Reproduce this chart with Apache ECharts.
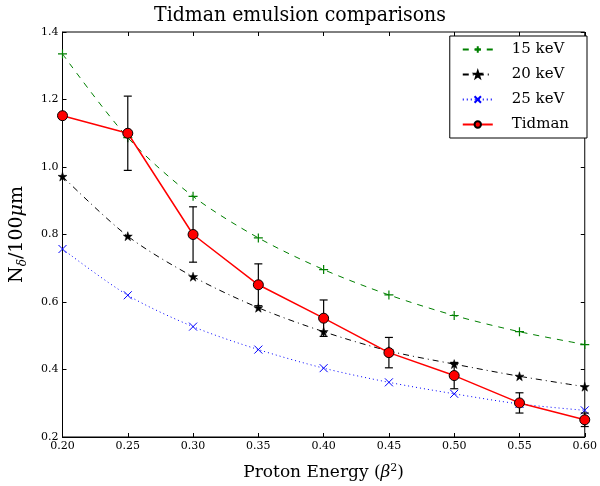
<!DOCTYPE html>
<html>
<head>
<meta charset="utf-8">
<title>Tidman emulsion comparisons</title>
<script src="https://cdn.jsdelivr.net/npm/echarts@6/dist/echarts.min.js"></script>
<style>
  html, body { margin: 0; padding: 0; background: #fff; }
  #chart { width: 600px; height: 486px; }
</style>
</head>
<body>
<div id="chart"></div>
<script>
// beta^2 values
var energy = [0.20, 0.25, 0.30, 0.35, 0.40, 0.45, 0.50, 0.55, 0.60];
var kev15 = [1.335, 1.087, 0.913, 0.790, 0.696, 0.621, 0.560, 0.512, 0.474];
var kev20 = [0.972, 0.795, 0.675, 0.583, 0.512, 0.455, 0.416, 0.380, 0.349];
var kev25 = [0.757, 0.620, 0.527, 0.459, 0.404, 0.362, 0.328, 0.298, 0.279];
var tidman = [1.152, 1.100, 0.800, 0.651, 0.552, 0.450, 0.382, 0.301, 0.251];
var tidmanErr = [0, 0.11, 0.082, 0.062, 0.054, 0.045, 0.039, 0.03, 0.02];

var FONT = 'DejaVu Serif';
var TITLE_FONT = "'DejaVu Serif Condensed', 'DejaVu Serif'";

var plusPath = 'path://M0,5L10,5M5,0L5,10';
var crossPath = 'path://M0,0L10,10M10,0L0,10';
var starPath = 'path://M5,0L6.2,3.6L10,3.6L7,5.9L8.1,9.5L5,7.3L1.9,9.5L3,5.9L0,3.6L3.8,3.6Z';

function pairs(ys) {
  return energy.map(function (x, i) { return [x, ys[i]]; });
}

var errData = energy.map(function (x, i) {
  return [x, tidman[i] - tidmanErr[i], tidman[i] + tidmanErr[i], tidmanErr[i]];
});

var chart = echarts.init(document.getElementById('chart'));

chart.setOption({
  animation: false,
  backgroundColor: '#fff',
  title: {
    text: 'Tidman emulsion comparisons',
    left: 'center',
    top: 0,
    textStyle: { fontFamily: TITLE_FONT, fontSize: 21, fontWeight: 'normal', color: '#000' }
  },
  legend: {
    orient: 'vertical',
    right: 13,
    top: 36,
    padding: [6, 18, 6, 12],
    itemWidth: 30,
    itemHeight: 8,
    itemGap: 10,
    borderColor: '#000',
    borderWidth: 1,
    backgroundColor: '#fff',
    data: ['15 keV', '20 keV', '25 keV', 'Tidman'],
    textStyle: { fontFamily: FONT, fontSize: 15, color: '#000', padding: [0, 0, 0, 14] }
  },
  grid: { left: 61, right: 12, top: 32, bottom: 46, show: true, borderColor: '#000', borderWidth: 1 },
  xAxis: [{
    type: 'value',
    min: 0.2,
    max: 0.6,
    interval: 0.05,
    name: 'Proton Energy ({i|β}{sup|2})',
    nameLocation: 'middle',
    nameGap: 26,
    nameTextStyle: {
      fontFamily: FONT, fontSize: 17, color: '#000',
      rich: {
        i: { fontFamily: FONT, fontSize: 17, fontStyle: 'italic', color: '#000' },
        sup: { fontFamily: FONT, fontSize: 11, color: '#000', verticalAlign: 'top', padding: [0, 0, 8, 0] }
      }
    },
    axisLine: { lineStyle: { color: '#000', width: 1 } },
    axisTick: { inside: true, length: 4, lineStyle: { color: '#000' } },
    axisLabel: { fontFamily: FONT, fontSize: 11, color: '#000', margin: 4, formatter: function (v) { return v.toFixed(2); } },
    splitLine: { show: false }
  }, {
    type: 'value',
    position: 'top',
    min: 0.2,
    max: 0.6,
    interval: 0.05,
    axisLine: { show: false },
    axisTick: { inside: true, length: 4, lineStyle: { color: '#000' } },
    axisLabel: { show: false },
    splitLine: { show: false }
  }],
  yAxis: [{
    type: 'value',
    min: 0.2,
    max: 1.4,
    interval: 0.2,
    name: '{r|N}{s|δ}{r|/100}{i|μ}{r|m}',
    nameLocation: 'middle',
    nameGap: 34,
    nameTextStyle: {
      fontFamily: FONT, fontSize: 19, color: '#000',
      rich: {
        r: { fontFamily: FONT, fontSize: 19, color: '#000' },
        i: { fontFamily: FONT, fontSize: 19, fontStyle: 'italic', color: '#000' },
        s: { fontFamily: FONT, fontSize: 12, fontStyle: 'italic', color: '#000', padding: [10, 0, 0, 0] }
      }
    },
    axisLine: { lineStyle: { color: '#000', width: 1 } },
    axisTick: { inside: true, length: 4, lineStyle: { color: '#000' } },
    axisLabel: { fontFamily: FONT, fontSize: 11, color: '#000', margin: 4, formatter: function (v) { return v.toFixed(1); } },
    splitLine: { show: false }
  }, {
    type: 'value',
    position: 'right',
    min: 0.2,
    max: 1.4,
    interval: 0.2,
    axisLine: { show: false },
    axisTick: { inside: true, length: 4, lineStyle: { color: '#000' } },
    axisLabel: { show: false },
    splitLine: { show: false }
  }],
  series: [
    {
      name: '15 keV',
      type: 'line',
      data: pairs(kev15),
      symbol: plusPath,
      symbolSize: 9,
      smooth: 0.3,
      lineStyle: { color: '#008000', width: 1, type: [6, 6] },
      itemStyle: { color: '#008000', borderColor: '#008000', borderWidth: 1.2 },
      z: 3
    },
    {
      name: '20 keV',
      type: 'line',
      data: pairs(kev20),
      symbol: starPath,
      symbolSize: 9,
      smooth: 0.3,
      lineStyle: { color: '#000', width: 1, type: [6, 4, 1, 4] },
      itemStyle: { color: '#000', borderColor: '#000', borderWidth: 0.5 },
      z: 3
    },
    {
      name: '25 keV',
      type: 'line',
      data: pairs(kev25),
      symbol: crossPath,
      symbolSize: 8,
      smooth: 0.3,
      lineStyle: { color: '#0000ff', width: 1, type: [1, 3] },
      itemStyle: { color: '#0000ff', borderColor: '#0000ff', borderWidth: 1 },
      z: 3
    },
    {
      name: 'errors',
      type: 'custom',
      data: errData,
      encode: { x: 0, y: [1, 2] },
      z: 4,
      renderItem: function (params, api) {
        if (api.value(3) <= 0) return null;
        var x = api.value(0);
        var lo = api.coord([x, api.value(1)]);
        var hi = api.coord([x, api.value(2)]);
        var cap = 4;
        var st = { stroke: '#000', lineWidth: 1.2 };
        return {
          type: 'group',
          children: [
            { type: 'line', shape: { x1: lo[0], y1: lo[1], x2: hi[0], y2: hi[1] }, style: st },
            { type: 'line', shape: { x1: lo[0] - cap, y1: lo[1], x2: lo[0] + cap, y2: lo[1] }, style: st },
            { type: 'line', shape: { x1: hi[0] - cap, y1: hi[1], x2: hi[0] + cap, y2: hi[1] }, style: st }
          ]
        };
      }
    },
    {
      name: 'Tidman',
      type: 'line',
      data: pairs(tidman),
      symbol: 'circle',
      symbolSize: 10,
      lineStyle: { color: '#ff0000', width: 1.5 },
      itemStyle: { color: '#ff0000', borderColor: '#000', borderWidth: 1 },
      z: 5
    }
  ]
});
</script>
</body>
</html>
